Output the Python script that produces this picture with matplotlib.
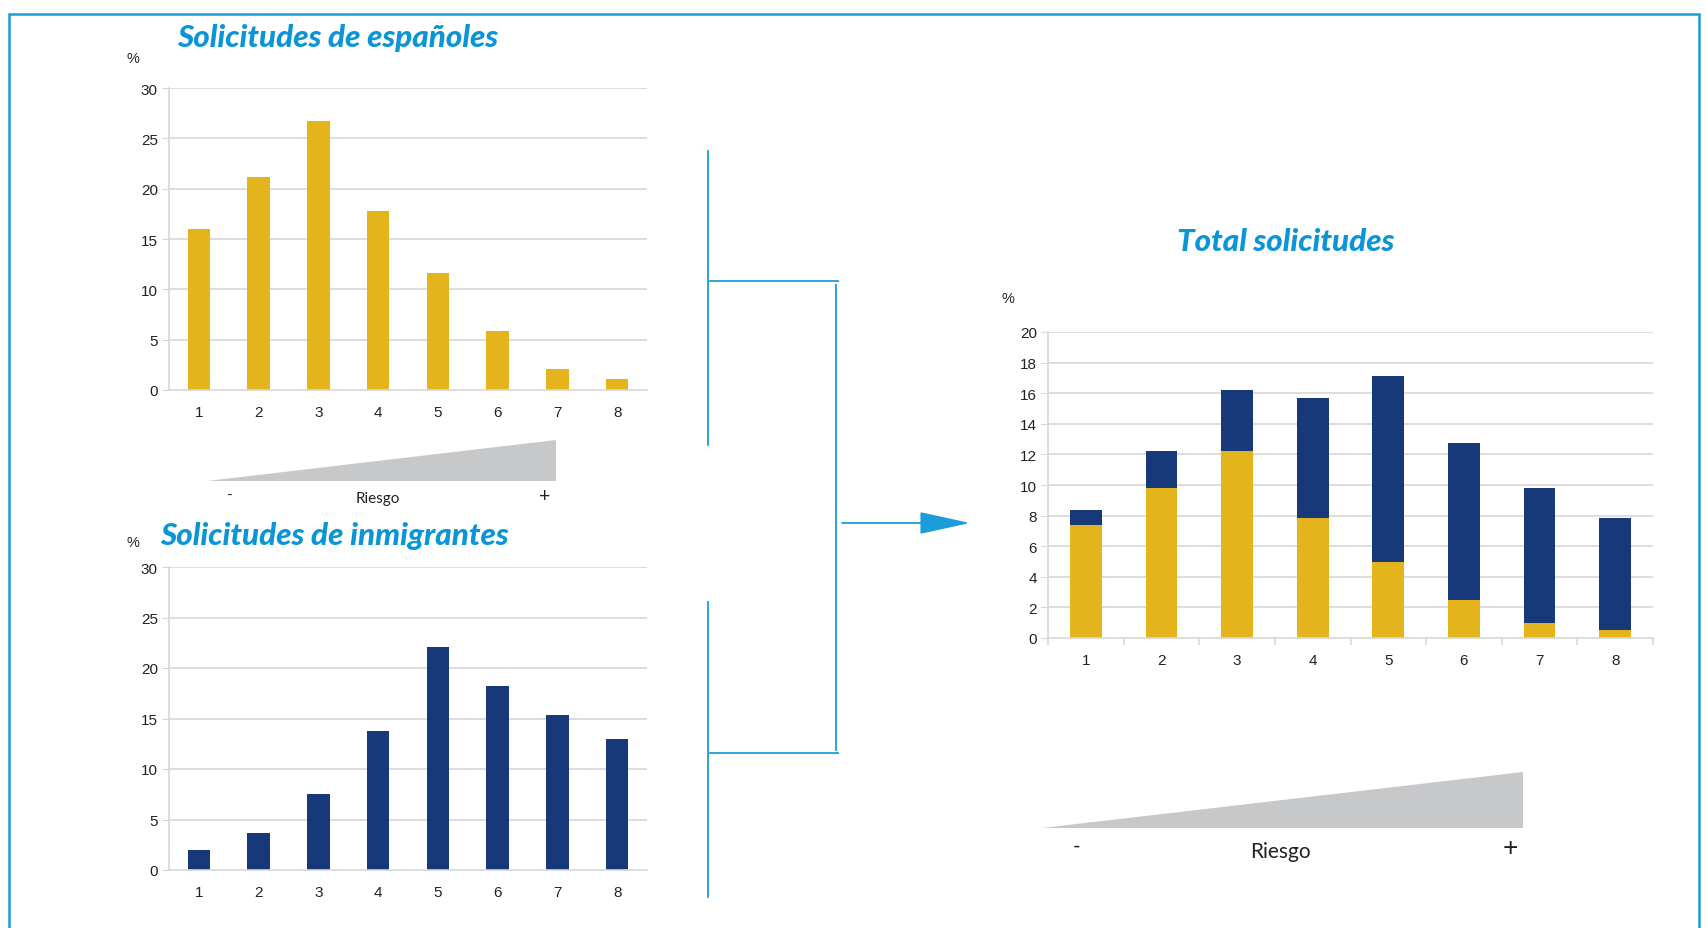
import matplotlib.pyplot as plt
from matplotlib.patches import Polygon

# Porcentaje de solicitudes por nivel de riesgo (1 = menor, 8 = mayor)
niveles = ["1", "2", "3", "4", "5", "6", "7", "8"]
espanoles = [16.0, 21.2, 26.7, 17.8, 11.6, 5.9, 2.05, 1.05]
inmigrantes = [2.0, 3.7, 7.5, 13.8, 22.1, 18.2, 15.3, 13.0]
total_espanoles = [7.4, 9.8, 12.25, 7.85, 4.95, 2.5, 1.0, 0.5]
total_inmigrantes = [0.95, 2.45, 3.95, 7.85, 12.2, 10.25, 8.8, 7.35]

AMARILLO = "#e3b41b"
AZUL_OSCURO = "#17397a"
AZUL_TITULO = "#0a95d6"
AZUL_LINEA = "#1c9cd8"
GRIS_REJILLA = "#d7d7d7"
GRIS_RIESGO = "#c7c8ca"

W, H = 1707, 929


def px_axes(fig, left, top, right, bottom):
    return fig.add_axes([left / W, 1 - bottom / H, (right - left) / W, (bottom - top) / H])


def estilo_ejes(ax, ymax, ystep, ticks_x=False):
    ax.set_xlim(-0.5, len(niveles) - 0.5)
    ax.set_ylim(0, ymax)
    ax.set_yticks(range(0, ymax + 1, ystep))
    ax.set_xticks(range(len(niveles)))
    ax.set_xticklabels(niveles)
    for y in range(ystep, ymax + 1, ystep):
        ax.axhline(y, color=GRIS_REJILLA, lw=1.2, zorder=0)
    for s in ["top", "right"]:
        ax.spines[s].set_visible(False)
    for s in ["left", "bottom"]:
        ax.spines[s].set_color(GRIS_REJILLA)
        ax.spines[s].set_linewidth(1.2)
    ax.tick_params(axis="y", length=5, color=GRIS_REJILLA, pad=3,
                   labelsize=11, labelcolor="#222222")
    ax.tick_params(axis="x", length=0, pad=11, labelsize=11, labelcolor="#222222")
    if ticks_x:
        ax.set_xticks([i - 0.5 for i in range(len(niveles) + 1)], minor=True)
        ax.tick_params(axis="x", which="minor", length=5, color=GRIS_REJILLA, width=1.2)
    for lab in ax.get_xticklabels() + ax.get_yticklabels():
        lab.set_fontfamily("Liberation Sans")


plt.rcParams["font.family"] = ["Lato", "DejaVu Sans"]
fig = plt.figure(figsize=(W / 100, H / 100), dpi=100)

# Solicitudes de españoles
ax1 = px_axes(fig, 169, 89, 647, 391)
ax1.bar(range(len(niveles)), espanoles, width=0.38, color=AMARILLO, zorder=2)
estilo_ejes(ax1, 30, 5)

# Solicitudes de inmigrantes
ax2 = px_axes(fig, 169, 568, 647, 871)
ax2.bar(range(len(niveles)), inmigrantes, width=0.38, color=AZUL_OSCURO, zorder=2)
estilo_ejes(ax2, 30, 5)

# Total solicitudes (apilado)
ax3 = px_axes(fig, 1048, 333, 1653, 639)
ax3.bar(range(len(niveles)), total_espanoles, width=0.42, color=AMARILLO, zorder=2)
ax3.bar(range(len(niveles)), total_inmigrantes, width=0.42, bottom=total_espanoles,
        color=AZUL_OSCURO, zorder=2)
estilo_ejes(ax3, 20, 2, ticks_x=True)

# capa de dibujo en píxeles para marco, conectores y cuñas
ov = fig.add_axes([0, 0, 1, 1], facecolor="none")
ov.set_xlim(0, W)
ov.set_ylim(H, 0)
ov.axis("off")

# marco
ov.plot([9, 9, 1699, 1699], [H, 15, 15, H], color=AZUL_LINEA, lw=1.8,
        solid_joinstyle="miter")

# conectores
lw_c = 1.3
ov.plot([708, 708], [152, 446], color=AZUL_LINEA, lw=lw_c)
ov.plot([708, 708], [603, 898], color=AZUL_LINEA, lw=lw_c)
ov.plot([710, 838], [282, 282], color=AZUL_LINEA, lw=lw_c)
ov.plot([710, 838], [754, 754], color=AZUL_LINEA, lw=lw_c)
ov.plot([836, 836], [286, 751], color=AZUL_LINEA, lw=lw_c)
ov.annotate("", xy=(970, 524), xytext=(842, 524),
            arrowprops=dict(arrowstyle="-|>,head_length=1.6,head_width=0.35",
                            color=AZUL_LINEA, lw=lw_c, shrinkA=0, shrinkB=0,
                            mutation_scale=20))

# cuñas de riesgo
ov.add_patch(Polygon([(207, 482), (556, 482), (556, 441)], closed=True,
                     facecolor=GRIS_RIESGO, edgecolor="none"))
ov.text(230, 496, "-", fontsize=11, ha="center", va="center", color="#222222")
ov.text(378, 499, "Riesgo", fontsize=11, ha="center", va="center", color="#222222")
ov.text(545, 496, "+", fontsize=14, ha="center", va="center", color="#222222")

ov.add_patch(Polygon([(1042, 829), (1523, 829), (1523, 773)], closed=True,
                     facecolor=GRIS_RIESGO, edgecolor="none"))
ov.text(1077, 847, "-", fontsize=15, ha="center", va="center", color="#222222")
ov.text(1280, 852, "Riesgo", fontsize=15, ha="center", va="center", color="#222222")
ov.text(1510, 849, "+", fontsize=19, ha="center", va="center", color="#222222")

# títulos y unidades
tit = dict(fontsize=22.6, fontweight="black", fontstyle="italic", color=AZUL_TITULO,
           va="center")
ov.text(177, 38, "Solicitudes de españoles", ha="left", **tit)
ov.text(160, 536, "Solicitudes de inmigrantes", ha="left", **tit)
ov.text(1286, 242, "Total solicitudes", ha="center", **tit)

pct = dict(fontsize=10.5, ha="center", va="center", color="#222222",
           fontfamily="Liberation Sans")
ov.text(133, 59, "%", **pct)
ov.text(133, 543, "%", **pct)
ov.text(1008, 299, "%", **pct)

fig.savefig("out.png", dpi=100)
